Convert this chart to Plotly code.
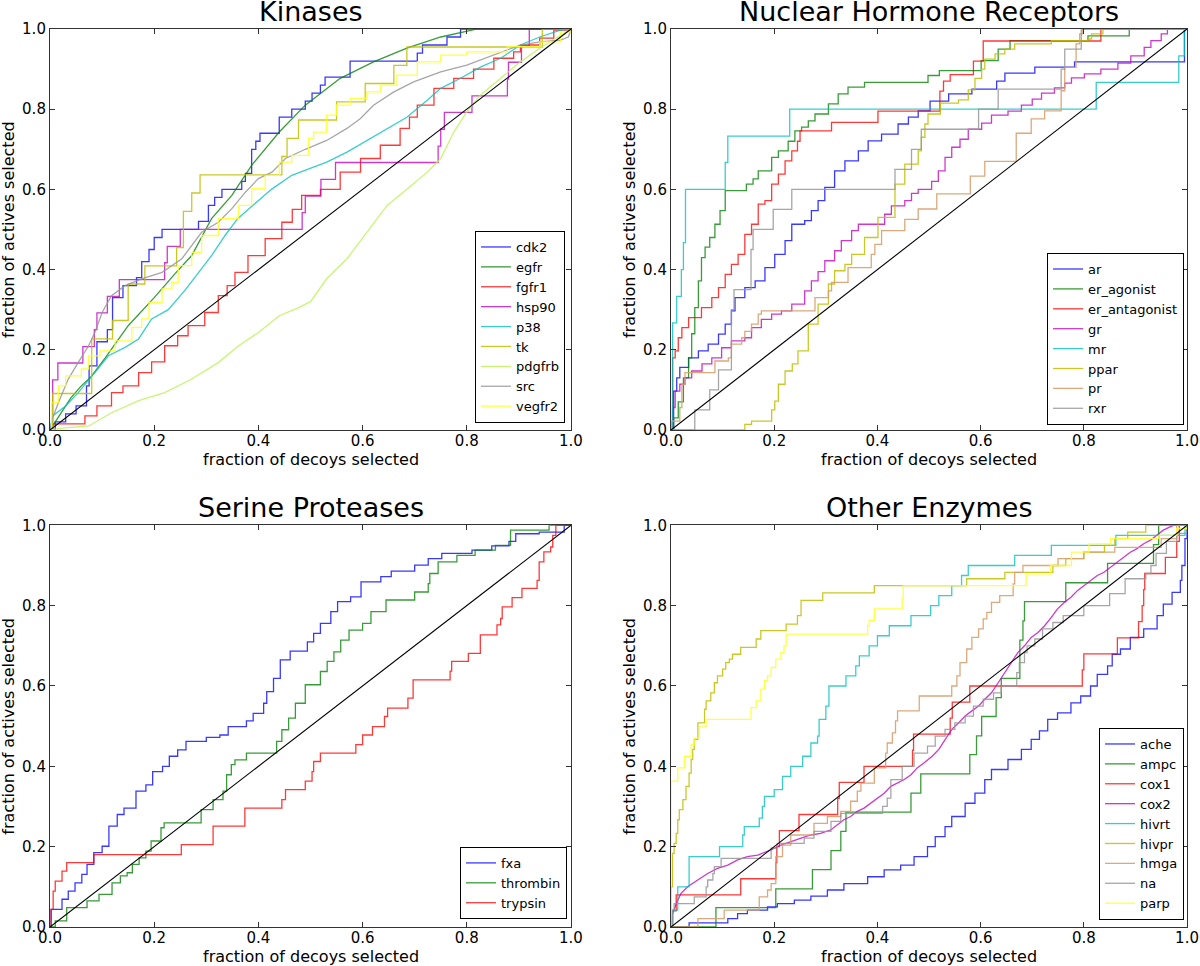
import plotly.graph_objects as go

# ---------------- data (breakpoints) ----------------
diag = [(0, 0), (1, 1)]

# Kinases
cdk2 = [(0, 0), (0.01, 0.02), (0.03, 0.04), (0.05, 0.06), (0.07, 0.11), (0.075, 0.16), (0.09, 0.22), (0.11, 0.25),
        (0.12, 0.33), (0.14, 0.36), (0.166, 0.38), (0.176, 0.42), (0.19, 0.45), (0.20, 0.48), (0.215, 0.50),
        (0.285, 0.52), (0.304, 0.56), (0.316, 0.58), (0.33, 0.60), (0.368, 0.62), (0.375, 0.64), (0.387, 0.70),
        (0.395, 0.72), (0.403, 0.74), (0.44, 0.78), (0.464, 0.80), (0.49, 0.82), (0.503, 0.84), (0.519, 0.86),
        (0.528, 0.88), (0.576, 0.92), (0.705, 0.94), (0.715, 0.96), (0.762, 0.98), (0.788, 1.0), (1, 1)]
egfr = [(0, 0), (0.02, 0.04), (0.04, 0.08), (0.06, 0.11), (0.077, 0.13), (0.106, 0.18), (0.15, 0.26), (0.2, 0.33),
        (0.24, 0.39), (0.272, 0.435), (0.31, 0.527), (0.349, 0.585), (0.387, 0.66), (0.44, 0.743), (0.49, 0.81),
        (0.557, 0.877), (0.621, 0.918), (0.685, 0.952), (0.75, 0.98), (0.82, 1.0), (1, 1)]
fgfr1 = [(0, 0), (0.005, 0.015), (0.067, 0.035), (0.09, 0.06), (0.118, 0.093), (0.14, 0.11), (0.17, 0.143),
         (0.195, 0.17), (0.22, 0.21), (0.245, 0.235), (0.265, 0.26), (0.297, 0.293), (0.323, 0.335), (0.34, 0.36),
         (0.355, 0.393), (0.38, 0.435), (0.413, 0.477), (0.445, 0.518), (0.465, 0.55), (0.483, 0.585),
         (0.519, 0.60), (0.557, 0.643), (0.596, 0.677), (0.634, 0.71), (0.672, 0.752), (0.69, 0.78), (0.705, 0.81),
         (0.737, 0.852), (0.775, 0.877), (0.813, 0.90), (0.852, 0.927), (0.89, 0.943), (0.903, 0.96),
         (0.94, 0.977), (0.967, 0.997), (1, 1)]
hsp90 = [(0, 0), (0.005, 0.125), (0.015, 0.167), (0.063, 0.208), (0.085, 0.25), (0.09, 0.292), (0.11, 0.333),
         (0.133, 0.375), (0.22, 0.417), (0.225, 0.458), (0.25, 0.5), (0.484, 0.542), (0.49, 0.583), (0.52, 0.625),
         (0.548, 0.667), (0.745, 0.708), (0.75, 0.75), (0.757, 0.792), (0.81, 0.833), (0.878, 0.875),
         (0.88, 0.917), (0.905, 0.958), (0.92, 1.0), (1, 1)]
p38 = [(0, 0), (0.005, 0.035), (0.03, 0.06), (0.054, 0.093), (0.086, 0.143), (0.112, 0.185), (0.144, 0.206),
       (0.17, 0.227), (0.195, 0.277), (0.227, 0.30), (0.26, 0.35), (0.285, 0.393), (0.31, 0.435), (0.336, 0.485),
       (0.36, 0.527), (0.393, 0.564), (0.425, 0.60), (0.464, 0.635), (0.5, 0.652), (0.531, 0.668), (0.57, 0.693),
       (0.608, 0.722), (0.647, 0.752), (0.685, 0.78), (0.724, 0.822), (0.75, 0.852), (0.788, 0.877),
       (0.826, 0.905), (0.865, 0.927), (0.903, 0.96), (0.94, 0.98), (0.98, 0.997), (1, 1)]
tk = [(0, 0), (0.005, 0.091), (0.08, 0.227), (0.12, 0.273), (0.15, 0.364), (0.182, 0.409), (0.243, 0.455),
      (0.256, 0.545), (0.272, 0.591), (0.288, 0.636), (0.445, 0.682), (0.455, 0.727), (0.477, 0.773),
      (0.55, 0.818), (0.605, 0.864), (0.66, 0.909), (0.685, 0.955), (0.945, 1.0), (1, 1)]
pdgfrb = [(0, 0), (0.03, 0.005), (0.074, 0.01), (0.118, 0.043), (0.17, 0.073), (0.22, 0.093), (0.272, 0.127),
          (0.323, 0.168), (0.362, 0.21), (0.40, 0.243), (0.44, 0.285), (0.477, 0.305), (0.5, 0.32), (0.531, 0.377),
          (0.57, 0.427), (0.608, 0.493), (0.647, 0.56), (0.685, 0.60), (0.724, 0.643), (0.75, 0.677),
          (0.775, 0.743), (0.80, 0.793), (0.826, 0.835), (0.865, 0.877), (0.903, 0.918), (0.94, 0.952),
          (0.98, 0.985), (1, 1)]
src = [(0, 0), (0.005, 0.03), (0.016, 0.068), (0.035, 0.127), (0.054, 0.168), (0.074, 0.21), (0.086, 0.243),
       (0.1, 0.293), (0.118, 0.335), (0.144, 0.36), (0.176, 0.377), (0.215, 0.393), (0.253, 0.427), (0.272, 0.46),
       (0.291, 0.493), (0.323, 0.518), (0.349, 0.552), (0.375, 0.593), (0.40, 0.627), (0.426, 0.643),
       (0.452, 0.677), (0.49, 0.70), (0.531, 0.722), (0.57, 0.752), (0.596, 0.777), (0.621, 0.81), (0.66, 0.843),
       (0.698, 0.868), (0.75, 0.893), (0.8, 0.91), (0.852, 0.935), (0.903, 0.96), (0.94, 0.968), (0.98, 0.972),
       (0.995, 0.98), (1, 1)]
vegfr2 = [(0, 0), (0.003, 0.068), (0.016, 0.11), (0.03, 0.135), (0.06, 0.152), (0.074, 0.185), (0.096, 0.197),
          (0.125, 0.222), (0.157, 0.256), (0.176, 0.277), (0.19, 0.318), (0.215, 0.352), (0.234, 0.368),
          (0.246, 0.41), (0.272, 0.443), (0.291, 0.485), (0.323, 0.527), (0.362, 0.56), (0.387, 0.602),
          (0.413, 0.635), (0.44, 0.668), (0.464, 0.685), (0.496, 0.727), (0.506, 0.743), (0.531, 0.785),
          (0.55, 0.81), (0.576, 0.827), (0.608, 0.843), (0.634, 0.86), (0.666, 0.885), (0.705, 0.918),
          (0.75, 0.935), (0.8, 0.943), (0.878, 0.956), (0.94, 0.968), (0.98, 0.993), (1, 1)]

# Nuclear Hormone Receptors
ar = [(0, 0), (0.005, 0.097), (0.011, 0.13), (0.017, 0.156), (0.034, 0.18), (0.053, 0.197), (0.072, 0.214),
      (0.092, 0.239), (0.105, 0.264), (0.117, 0.297), (0.124, 0.33), (0.143, 0.355), (0.163, 0.372),
      (0.182, 0.405), (0.201, 0.438), (0.221, 0.472), (0.234, 0.513), (0.259, 0.522), (0.272, 0.547),
      (0.285, 0.572), (0.298, 0.605), (0.317, 0.646), (0.337, 0.671), (0.363, 0.696), (0.382, 0.721),
      (0.408, 0.738), (0.44, 0.763), (0.46, 0.78), (0.479, 0.796), (0.502, 0.82), (0.538, 0.838), (0.583, 0.85),
      (0.631, 0.87), (0.647, 0.89), (0.705, 0.905), (0.782, 0.918), (0.995, 1.0), (1, 1)]
er_agonist = [(0, 0), (0.005, 0.03), (0.014, 0.07), (0.024, 0.13), (0.034, 0.18), (0.04, 0.24), (0.046, 0.305),
              (0.053, 0.372), (0.059, 0.43), (0.066, 0.456), (0.075, 0.48), (0.085, 0.513), (0.095, 0.547),
              (0.105, 0.597), (0.146, 0.613), (0.159, 0.626), (0.169, 0.646), (0.195, 0.68), (0.208, 0.696),
              (0.227, 0.72), (0.24, 0.746), (0.253, 0.755), (0.266, 0.771), (0.279, 0.788), (0.305, 0.813),
              (0.324, 0.838), (0.343, 0.855), (0.375, 0.867), (0.498, 0.884), (0.52, 0.896), (0.601, 0.921),
              (0.634, 0.95), (0.657, 0.971), (0.808, 0.983), (0.888, 1.0), (1, 1)]
er_antagonist = [(0, 0), (0.003, 0.18), (0.008, 0.197), (0.014, 0.23), (0.021, 0.255), (0.034, 0.28),
                 (0.059, 0.305), (0.079, 0.33), (0.092, 0.355), (0.105, 0.388), (0.117, 0.413), (0.13, 0.438),
                 (0.143, 0.488), (0.156, 0.513), (0.169, 0.563), (0.182, 0.572), (0.195, 0.613), (0.208, 0.638),
                 (0.221, 0.671), (0.234, 0.696), (0.245, 0.72), (0.25, 0.746), (0.311, 0.767), (0.401, 0.795),
                 (0.521, 0.845), (0.528, 0.87), (0.541, 0.886), (0.586, 0.92), (0.605, 0.97), (0.833, 1.0), (1, 1)]
gr = [(0, 0), (0.003, 0.056), (0.008, 0.097), (0.017, 0.114), (0.027, 0.13), (0.04, 0.147), (0.06, 0.165),
      (0.079, 0.18), (0.098, 0.205), (0.117, 0.222), (0.143, 0.23), (0.156, 0.255), (0.175, 0.276),
      (0.195, 0.289), (0.214, 0.297), (0.234, 0.314), (0.259, 0.347), (0.272, 0.372), (0.285, 0.395),
      (0.298, 0.422), (0.317, 0.447), (0.33, 0.472), (0.35, 0.497), (0.363, 0.513), (0.414, 0.538),
      (0.427, 0.559), (0.453, 0.572), (0.466, 0.59), (0.479, 0.60), (0.505, 0.62), (0.518, 0.646), (0.531, 0.68),
      (0.544, 0.705), (0.56, 0.725), (0.576, 0.75), (0.602, 0.765), (0.621, 0.785), (0.653, 0.795), (0.679, 0.81),
      (0.7, 0.825), (0.718, 0.84), (0.743, 0.853), (0.763, 0.865), (0.776, 0.878), (0.801, 0.888),
      (0.833, 0.9), (0.866, 0.915), (0.891, 0.933), (0.917, 0.954), (0.93, 0.971), (0.95, 0.988), (0.962, 1.0),
      (1, 1)]
mr = [(0, 0), (0.003, 0.267), (0.011, 0.333), (0.02, 0.4), (0.024, 0.467), (0.028, 0.6), (0.105, 0.667),
      (0.11, 0.733), (0.23, 0.8), (0.824, 0.867), (0.984, 0.933), (0.995, 1.0), (1, 1)]
ppar = [(0, 0), (0.143, 0.014), (0.156, 0.022), (0.195, 0.05), (0.201, 0.072), (0.208, 0.114), (0.221, 0.147),
        (0.235, 0.165), (0.246, 0.197), (0.266, 0.264), (0.285, 0.314), (0.305, 0.364), (0.317, 0.397),
        (0.337, 0.413), (0.35, 0.438), (0.375, 0.48), (0.401, 0.53), (0.434, 0.613), (0.453, 0.663),
        (0.479, 0.696), (0.485, 0.73), (0.492, 0.763), (0.498, 0.788), (0.522, 0.815), (0.557, 0.823),
        (0.576, 0.848), (0.589, 0.877), (0.602, 0.9), (0.608, 0.925), (0.628, 0.938), (0.647, 0.95),
        (0.666, 0.963), (0.737, 0.971), (0.808, 0.975), (0.815, 0.988), (0.837, 1.0), (1, 1)]
pr = [(0, 0), (0.001, 0.022), (0.017, 0.056), (0.021, 0.114), (0.027, 0.143), (0.085, 0.172), (0.111, 0.18),
      (0.117, 0.214), (0.137, 0.23), (0.143, 0.246), (0.156, 0.264), (0.169, 0.289), (0.175, 0.297),
      (0.279, 0.33), (0.305, 0.347), (0.311, 0.368), (0.343, 0.405), (0.388, 0.438), (0.395, 0.463),
      (0.408, 0.497), (0.453, 0.525), (0.479, 0.551), (0.515, 0.589), (0.58, 0.633), (0.608, 0.67),
      (0.669, 0.74), (0.698, 0.776), (0.724, 0.796), (0.756, 0.846), (0.763, 0.904), (0.785, 0.963),
      (0.792, 0.988), (0.798, 1.0), (1, 1)]
rxr = [(0, 0), (0.046, 0.05), (0.075, 0.10), (0.092, 0.15), (0.117, 0.30), (0.122, 0.35), (0.155, 0.45),
       (0.159, 0.50), (0.198, 0.55), (0.234, 0.60), (0.434, 0.65), (0.466, 0.70), (0.485, 0.75), (0.596, 0.80),
       (0.634, 0.85), (0.756, 0.90), (0.763, 0.95), (0.795, 1.0), (1, 1)]

# Serine Proteases
fxa = [(0, 0), (0.002, 0.044), (0.023, 0.069), (0.035, 0.089), (0.048, 0.110), (0.061, 0.131), (0.071, 0.156),
       (0.084, 0.185), (0.100, 0.201), (0.113, 0.251), (0.129, 0.280), (0.142, 0.296), (0.165, 0.338),
       (0.184, 0.354), (0.197, 0.387), (0.216, 0.400), (0.229, 0.425), (0.245, 0.441), (0.261, 0.462),
       (0.300, 0.472), (0.326, 0.478), (0.342, 0.499), (0.377, 0.513), (0.390, 0.532), (0.410, 0.557),
       (0.416, 0.586), (0.429, 0.619), (0.442, 0.665), (0.461, 0.687), (0.494, 0.710), (0.506, 0.731),
       (0.519, 0.756), (0.539, 0.785), (0.552, 0.810), (0.577, 0.822), (0.597, 0.859), (0.635, 0.872),
       (0.655, 0.886), (0.700, 0.901), (0.726, 0.917), (0.752, 0.930), (0.810, 0.938), (0.848, 0.949),
       (0.881, 0.960), (0.894, 0.979), (0.939, 0.983), (0.987, 1.0), (1, 1)]
thrombin = [(0, 0), (0.010, 0.015), (0.032, 0.048), (0.071, 0.065), (0.094, 0.081), (0.119, 0.110),
            (0.135, 0.127), (0.148, 0.135), (0.158, 0.156), (0.171, 0.172), (0.184, 0.189), (0.194, 0.214),
            (0.213, 0.247), (0.219, 0.259), (0.290, 0.292), (0.313, 0.317), (0.332, 0.338), (0.339, 0.379),
            (0.348, 0.404), (0.355, 0.416), (0.377, 0.433), (0.435, 0.462), (0.445, 0.491), (0.458, 0.520),
            (0.471, 0.557), (0.490, 0.603), (0.519, 0.636), (0.532, 0.661), (0.545, 0.685), (0.558, 0.714),
            (0.574, 0.739), (0.600, 0.756), (0.616, 0.785), (0.645, 0.814), (0.700, 0.834), (0.726, 0.855),
            (0.729, 0.880), (0.745, 0.909), (0.781, 0.925), (0.816, 0.938), (0.855, 0.950), (0.884, 0.988),
            (0.958, 1.0), (1, 1)]
trypsin = [(0, 0), (0.002, 0.044), (0.006, 0.089), (0.010, 0.114), (0.023, 0.139), (0.032, 0.160),
           (0.084, 0.180), (0.252, 0.205), (0.313, 0.251), (0.374, 0.296), (0.445, 0.317), (0.452, 0.342),
           (0.490, 0.363), (0.503, 0.387), (0.506, 0.412), (0.519, 0.433), (0.587, 0.454), (0.600, 0.478),
           (0.619, 0.499), (0.642, 0.524), (0.648, 0.545), (0.687, 0.570), (0.697, 0.615), (0.768, 0.637),
           (0.771, 0.661), (0.803, 0.681), (0.826, 0.727), (0.858, 0.752), (0.865, 0.768), (0.868, 0.797),
           (0.887, 0.820), (0.906, 0.843), (0.935, 0.863), (0.939, 0.909), (0.948, 0.934), (0.961, 0.946),
           (0.965, 0.975), (0.971, 1.0), (1, 1)]

# Other Enzymes
ache = [(0, 0), (0.035, 0.010), (0.110, 0.021), (0.129, 0.033), (0.148, 0.042), (0.187, 0.050), (0.206, 0.058),
        (0.239, 0.067), (0.271, 0.077), (0.303, 0.092), (0.335, 0.108), (0.381, 0.125), (0.413, 0.142),
        (0.445, 0.154), (0.471, 0.175), (0.497, 0.200), (0.512, 0.225), (0.531, 0.250), (0.544, 0.275),
        (0.570, 0.308), (0.589, 0.333), (0.608, 0.367), (0.621, 0.392), (0.653, 0.417), (0.679, 0.442),
        (0.698, 0.467), (0.714, 0.488), (0.730, 0.517), (0.749, 0.533), (0.775, 0.558), (0.794, 0.575),
        (0.813, 0.600), (0.826, 0.629), (0.846, 0.650), (0.855, 0.679), (0.871, 0.692), (0.890, 0.721),
        (0.916, 0.742), (0.942, 0.775), (0.954, 0.804), (0.971, 0.833), (0.987, 0.863), (0.990, 0.900),
        (0.996, 0.967), (1, 1)]
ampc = [(0, 0), (0.087, 0.048), (0.203, 0.095), (0.274, 0.143), (0.31, 0.19), (0.329, 0.238), (0.339, 0.286),
        (0.465, 0.333), (0.484, 0.381), (0.579, 0.429), (0.592, 0.476), (0.602, 0.524), (0.63, 0.571),
        (0.64, 0.619), (0.676, 0.714), (0.682, 0.762), (0.685, 0.81), (0.765, 0.857), (0.846, 0.905),
        (0.935, 0.952), (0.945, 1.0), (1, 1)]
cox1 = [(0, 0), (0.003, 0.04), (0.01, 0.08), (0.135, 0.12), (0.203, 0.16), (0.205, 0.2), (0.21, 0.24),
        (0.248, 0.28), (0.323, 0.32), (0.326, 0.36), (0.374, 0.40), (0.468, 0.44), (0.47, 0.48), (0.541, 0.52),
        (0.545, 0.56), (0.579, 0.60), (0.797, 0.64), (0.80, 0.68), (0.865, 0.72), (0.906, 0.76), (0.913, 0.80),
        (0.916, 0.84), (0.918, 0.88), (0.958, 0.92), (0.98, 0.96), (0.985, 1.0), (1, 1)]
cox2 = [(0, 0), (0.003, 0.033), (0.010, 0.058), (0.019, 0.083), (0.032, 0.100), (0.052, 0.117), (0.071, 0.133),
        (0.090, 0.146), (0.110, 0.154), (0.129, 0.167), (0.148, 0.175), (0.168, 0.179), (0.194, 0.192),
        (0.213, 0.204), (0.232, 0.213), (0.252, 0.221), (0.271, 0.229), (0.290, 0.233), (0.310, 0.242),
        (0.323, 0.254), (0.335, 0.267), (0.348, 0.275), (0.361, 0.288), (0.374, 0.296), (0.387, 0.308),
        (0.400, 0.321), (0.413, 0.333), (0.426, 0.350), (0.439, 0.358), (0.452, 0.367), (0.465, 0.379),
        (0.477, 0.396), (0.490, 0.408), (0.506, 0.425), (0.519, 0.442), (0.531, 0.467), (0.544, 0.492),
        (0.557, 0.508), (0.570, 0.525), (0.583, 0.538), (0.596, 0.550), (0.608, 0.567), (0.621, 0.583),
        (0.634, 0.608), (0.647, 0.633), (0.660, 0.658), (0.672, 0.683), (0.685, 0.700), (0.698, 0.721),
        (0.711, 0.733), (0.724, 0.750), (0.737, 0.771), (0.749, 0.792), (0.762, 0.808), (0.775, 0.821),
        (0.788, 0.838), (0.801, 0.850), (0.813, 0.863), (0.826, 0.875), (0.839, 0.883), (0.852, 0.896),
        (0.865, 0.908), (0.878, 0.921), (0.890, 0.933), (0.903, 0.942), (0.916, 0.954), (0.929, 0.963),
        (0.942, 0.975), (0.954, 0.988), (0.967, 0.996), (0.974, 1.0), (1, 1)]
hivrt = [(0, 0), (0.003, 0.042), (0.013, 0.10), (0.035, 0.175), (0.094, 0.20), (0.139, 0.229), (0.142, 0.25),
         (0.171, 0.271), (0.177, 0.30), (0.181, 0.325), (0.2, 0.342), (0.216, 0.375), (0.232, 0.40),
         (0.255, 0.425), (0.271, 0.458), (0.284, 0.475), (0.287, 0.517), (0.30, 0.55), (0.306, 0.60),
         (0.339, 0.625), (0.358, 0.65), (0.365, 0.675), (0.384, 0.70), (0.40, 0.725), (0.423, 0.75),
         (0.465, 0.775), (0.503, 0.80), (0.519, 0.825), (0.544, 0.85), (0.563, 0.875), (0.576, 0.90),
         (0.666, 0.925), (0.737, 0.95), (0.862, 0.975), (0.996, 1.0), (1, 1)]
hivpr = [(0, 0), (0.0, 0.1), (0.003, 0.183), (0.006, 0.208), (0.01, 0.233), (0.013, 0.267), (0.016, 0.292),
         (0.023, 0.317), (0.029, 0.35), (0.035, 0.383), (0.039, 0.417), (0.042, 0.442), (0.045, 0.467),
         (0.052, 0.508), (0.065, 0.542), (0.068, 0.563), (0.077, 0.583), (0.084, 0.608), (0.09, 0.625),
         (0.1, 0.642), (0.106, 0.658), (0.113, 0.667), (0.119, 0.679), (0.135, 0.696), (0.165, 0.717),
         (0.174, 0.738), (0.223, 0.754), (0.245, 0.775), (0.252, 0.813), (0.294, 0.832), (0.394, 0.85),
         (0.573, 0.867), (0.647, 0.883), (0.74, 0.90), (0.765, 0.917), (0.80, 0.933), (0.84, 0.95),
         (0.86, 0.967), (0.885, 0.983), (0.92, 1.0), (1, 1)]
hmga = [(0, 0), (0.052, 0.021), (0.103, 0.042), (0.171, 0.075), (0.187, 0.092), (0.194, 0.108), (0.203, 0.175),
        (0.216, 0.204), (0.232, 0.229), (0.277, 0.258), (0.303, 0.275), (0.329, 0.288), (0.348, 0.313),
        (0.361, 0.338), (0.368, 0.358), (0.394, 0.396), (0.416, 0.433), (0.419, 0.458), (0.429, 0.483),
        (0.435, 0.513), (0.439, 0.538), (0.481, 0.575), (0.544, 0.60), (0.554, 0.625), (0.56, 0.658),
        (0.573, 0.692), (0.583, 0.721), (0.596, 0.742), (0.605, 0.767), (0.612, 0.783), (0.621, 0.808),
        (0.637, 0.825), (0.663, 0.854), (0.666, 0.883), (0.682, 0.90), (0.75, 0.917), (0.80, 0.933),
        (0.86, 0.945), (0.95, 0.967), (0.98, 1.0), (1, 1)]
na = [(0, 0), (0.003, 0.042), (0.006, 0.058), (0.045, 0.075), (0.068, 0.10), (0.071, 0.117), (0.081, 0.133),
      (0.084, 0.15), (0.097, 0.171), (0.194, 0.196), (0.206, 0.208), (0.258, 0.221), (0.277, 0.238),
      (0.31, 0.263), (0.329, 0.283), (0.41, 0.30), (0.419, 0.321), (0.426, 0.367), (0.448, 0.40),
      (0.471, 0.433), (0.497, 0.45), (0.512, 0.475), (0.531, 0.492), (0.55, 0.508), (0.57, 0.525),
      (0.586, 0.55), (0.605, 0.567), (0.625, 0.583), (0.64, 0.60), (0.67, 0.633), (0.675, 0.658),
      (0.685, 0.683), (0.69, 0.70), (0.705, 0.717), (0.72, 0.742), (0.74, 0.758), (0.76, 0.775), (0.80, 0.80),
      (0.85, 0.83), (0.88, 0.867), (0.92, 0.88), (0.93, 0.90), (0.94, 0.93), (0.96, 0.96), (0.98, 0.98), (1, 1)]
parp = [(0, 0), (0.0, 0.363), (0.013, 0.396), (0.026, 0.425), (0.039, 0.454), (0.045, 0.471), (0.055, 0.50),
        (0.068, 0.517), (0.155, 0.546), (0.165, 0.563), (0.174, 0.592), (0.181, 0.613), (0.187, 0.625),
        (0.194, 0.646), (0.203, 0.667), (0.213, 0.683), (0.219, 0.70), (0.223, 0.729), (0.381, 0.75),
        (0.384, 0.763), (0.394, 0.792), (0.448, 0.818), (0.45, 0.85), (0.688, 0.879), (0.735, 0.90),
        (0.776, 0.933), (0.81, 0.954), (0.852, 0.967), (0.945, 0.975), (0.98, 0.992), (1, 1)]

panel_titles = ["Kinases", "Nuclear Hormone Receptors", "Serine Proteases", "Other Enzymes"]
panel_series = [
    [("cdk2", cdk2), ("egfr", egfr), ("fgfr1", fgfr1), ("hsp90", hsp90), ("p38", p38), ("tk", tk),
     ("pdgfrb", pdgfrb), ("src", src), ("vegfr2", vegfr2)],
    [("ar", ar), ("er_agonist", er_agonist), ("er_antagonist", er_antagonist), ("gr", gr), ("mr", mr),
     ("ppar", ppar), ("pr", pr), ("rxr", rxr)],
    [("fxa", fxa), ("thrombin", thrombin), ("trypsin", trypsin)],
    [("ache", ache), ("ampc", ampc), ("cox1", cox1), ("cox2", cox2), ("hivrt", hivrt), ("hivpr", hivpr),
     ("hmga", hmga), ("na", na), ("parp", parp)],
]
x_label = "fraction of decoys selected"
y_label = "fraction of actives selected"
tick_vals = [0.0, 0.2, 0.4, 0.6, 0.8, 1.0]
tick_text = ["0.0", "0.2", "0.4", "0.6", "0.8", "1.0"]

# ---------------- style ----------------
BLUE, GREEN, RED = "rgba(0,0,255,0.78)", "rgba(0,128,0,0.78)", "rgba(255,0,0,0.78)"
MAG, CYAN, OLIVE = "rgba(191,0,191,0.78)", "rgba(0,191,191,0.78)", "rgba(191,191,0,0.85)"
LIME, GRAY, YEL, TAN = "rgba(190,245,90,0.85)", "rgba(150,150,150,0.85)", "rgba(255,255,40,0.85)", "rgba(215,160,110,0.9)"
COLORS = {
    "cdk2": BLUE, "egfr": GREEN, "fgfr1": RED, "hsp90": MAG, "p38": CYAN, "tk": OLIVE, "pdgfrb": LIME,
    "src": GRAY, "vegfr2": YEL,
    "ar": BLUE, "er_agonist": GREEN, "er_antagonist": RED, "gr": MAG, "mr": CYAN, "ppar": OLIVE, "pr": TAN,
    "rxr": GRAY,
    "fxa": BLUE, "thrombin": GREEN, "trypsin": RED,
    "ache": BLUE, "ampc": GREEN, "cox1": RED, "cox2": MAG, "hivrt": CYAN, "hivpr": OLIVE, "hmga": TAN,
    "na": GRAY, "parp": YEL,
}
SMOOTH = {"egfr", "p38", "pdgfrb", "src", "cox2"}
FONT = "DejaVu Sans"

XD = [[0.0417, 0.4758], [0.5592, 0.9892], [0.0417, 0.4758], [0.5592, 0.9892]]
YD = [[0.5549, 0.9700], [0.5549, 0.9700], [0.0404, 0.4562], [0.0404, 0.4562]]
LEG = [(0.4708, 0.5621), (0.9867, 0.5600), (0.4725, 0.0487), (0.9867, 0.0476)]

fig = go.Figure()
layout = dict(
    width=1200, height=966, paper_bgcolor="white", plot_bgcolor="white",
    margin=dict(l=0, r=0, t=0, b=0, autoexpand=False), font=dict(family=FONT, color="black"),
    annotations=[],
)

for i, (title, series) in enumerate(zip(panel_titles, panel_series)):
    sfx = "" if i == 0 else str(i + 1)
    xa, ya = "x" + sfx, "y" + sfx
    leg = "legend" if i == 0 else "legend" + str(i + 1)
    for name, pts in series:
        fig.add_trace(go.Scatter(
            x=[p[0] for p in pts], y=[p[1] for p in pts], mode="lines", name=name,
            line=dict(color=COLORS[name], width=1.3, shape="linear" if name in SMOOTH else "hv"),
            xaxis=xa, yaxis=ya, legend=leg, hoverinfo="skip"))
    fig.add_trace(go.Scatter(
        x=[p[0] for p in diag], y=[p[1] for p in diag], mode="lines", showlegend=False,
        line=dict(color="black", width=1.1), xaxis=xa, yaxis=ya, hoverinfo="skip"))

    common = dict(range=[0, 1], tickvals=tick_vals, ticktext=tick_text, ticks="inside", ticklen=5,
                  tickcolor="#333", showline=True, linecolor="#333", linewidth=1.2, mirror="allticks",
                  showgrid=False, zeroline=False, automargin=False,
                  tickfont=dict(size=15, family=FONT, color="black"))
    layout["xaxis" + sfx] = dict(common, domain=XD[i], anchor=ya, ticklabelstandoff=-3)
    layout["yaxis" + sfx] = dict(common, domain=YD[i], anchor=xa)
    layout[leg] = dict(x=LEG[i][0], y=LEG[i][1], xanchor="right", yanchor="bottom", bgcolor="white",
                       bordercolor="black", borderwidth=1, font=dict(size=13, family=FONT), tracegroupgap=0)
    xc = (XD[i][0] + XD[i][1]) / 2
    yc = (YD[i][0] + YD[i][1]) / 2
    layout["annotations"] += [
        dict(text=title, x=xc, y=YD[i][1], xref="paper", yref="paper", xanchor="center", yanchor="bottom",
             showarrow=False, font=dict(size=27, family=FONT, color="black")),
        dict(text=x_label, x=xc, y=YD[i][0], xref="paper", yref="paper", xanchor="center", yanchor="top",
             yshift=-18, showarrow=False, font=dict(size=16, family=FONT, color="black")),
        dict(text=y_label, x=XD[i][0], y=yc, xref="paper", yref="paper", xanchor="right", yanchor="middle",
             xshift=-30, textangle=-90, showarrow=False, font=dict(size=16, family=FONT, color="black")),
    ]

fig.update_layout(**layout)
fig.write_html("out.html", config={"displayModeBar": False},
               post_script="document.body.style.margin='0';document.body.style.padding='0';")
